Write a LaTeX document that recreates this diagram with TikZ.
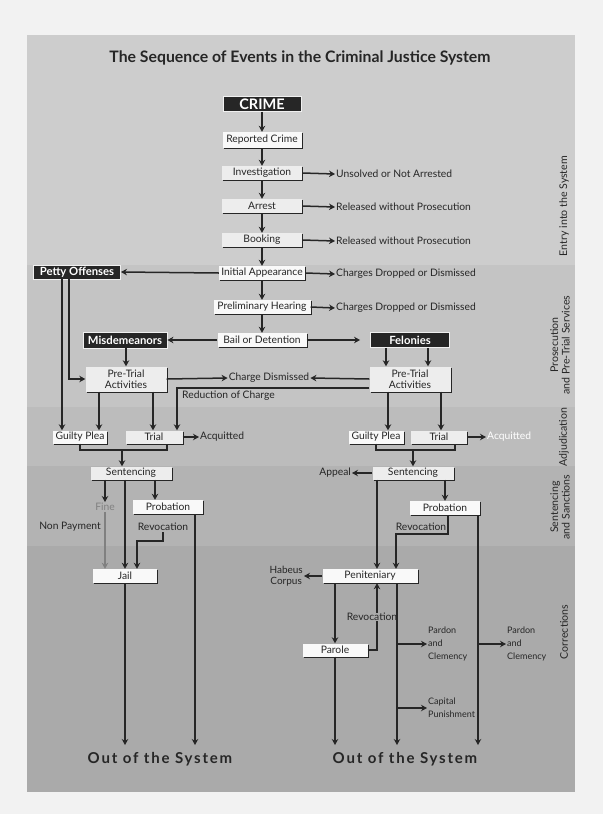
\documentclass[tikz,border=0pt]{standalone}
\usepackage{fontspec}
\setmainfont{Lato}
\usetikzlibrary{arrows.meta,shadows}
\definecolor{pagebg}{HTML}{F2F2F2}
\definecolor{bandA}{HTML}{CDCDCD}
\definecolor{bandB}{HTML}{C4C4C4}
\definecolor{bandC}{HTML}{BCBCBC}
\definecolor{bandD}{HTML}{B3B3B3}
\definecolor{bandE}{HTML}{AAAAAA}
\definecolor{ink}{HTML}{262626}
\begin{document}
\begin{tikzpicture}[x=1pt,y=-1pt,
  txt/.style={font=\fontsize{10.3}{11}\selectfont, text=ink, inner sep=1pt},
  box/.style={txt, fill=gray!5, minimum height=14pt, inner sep=0pt,
    drop shadow={shadow xshift=1.4pt,shadow yshift=-1.4pt,fill=ink,opacity=1}},
  gbox/.style={box, fill=gray!14},
  dbox/.style={fill=ink, draw=gray!12, line width=0.9pt, text=white,
    font=\bfseries\fontsize{11.3}{12}\selectfont, inner sep=0pt, minimum height=14pt},
  conn/.style={line width=1.5pt, draw=ink},
  arr/.style={conn, -{Stealth[length=6pt,width=6.5pt]}},
  side/.style={txt, rotate=90, align=center, font=\fontsize{10.6}{11.5}\selectfont},
  small/.style={txt, align=left, anchor=west, font=\fontsize{9}{13}\selectfont},
  outsys/.style={font=\bfseries\fontsize{15}{17}\selectfont\addfontfeature{LetterSpace=12}, text=ink},
]
\useasboundingbox (0,0) rectangle (603,814);
\fill[pagebg] (0,0) rectangle (603,814);
\fill[bandA] (27,35) rectangle (575,265);
\fill[bandB] (27,265) rectangle (575,407);
\fill[bandC] (27,407) rectangle (575,466);
\fill[bandD] (27,466) rectangle (575,546);
\fill[bandE] (27,546) rectangle (575,792);

\node[font=\bfseries\fontsize{15.8}{18}\selectfont, text=ink] (title) at (300,58) {The Sequence of Events in the Criminal Justice System};

% side labels
\node[side] (s1) at (564,206) {Entry into the System};
\node[side] (s2) at (560,345) {Prosecution\\and Pre-Trial Services};
\node[side] (s3) at (564,437) {Adjudication};
\node[side] (s4) at (560,507) {Sentencing\\and Sanctions};
\node[side] (s5) at (564,632) {Corrections};

% main column
\node[dbox, minimum width=78pt, minimum height=15pt, font=\bfseries\fontsize{14.5}{15}\selectfont] (crime) at (262,104) {CRIME};
\node[box, minimum width=79pt, minimum height=16pt] (rep) at (262,140) {Reported Crime};
\node[gbox, minimum width=80pt] (inv) at (262,173) {Investigation};
\node[gbox, minimum width=80pt] (arr) at (262,206) {Arrest};
\node[gbox, minimum width=80pt] (book) at (262,240) {Booking};
\node[box, minimum width=86pt] (ia) at (262,273) {Initial Appearance};
\node[box, minimum width=97pt] (ph) at (262,307) {Preliminary Hearing};
\node[box, minimum width=89pt] (bail) at (262,340) {Bail or Detention};

\node[txt, anchor=west] (uns) at (335,174) {Unsolved or Not Arrested};
\node[txt, anchor=west] (rel1) at (335,207) {Released without Prosecution};
\node[txt, anchor=west] (rel2) at (335,241) {Released without Prosecution};
\node[txt, anchor=west] (cd1) at (335,274) {Charges Dropped or Dismissed};
\node[txt, anchor=west] (cd2) at (335,308) {Charges Dropped or Dismissed};

\draw[arr] (crime) -- (rep);
\draw[arr] (rep) -- (inv);
\draw[arr] (inv) -- (arr);
\draw[arr] (arr) -- (book);
\draw[arr] (book) -- (ia);
\draw[arr] (ia) -- (ph);
\draw[arr] (ph) -- (bail);
\draw[arr] (inv.east) -- (uns.west);
\draw[arr] (arr.east) -- (rel1.west);
\draw[arr] (book.east) -- (rel2.west);
\draw[arr] (ia.east) -- (cd1.west);
\draw[arr] (ph.east) -- (cd2.west);

% classification
\node[dbox, minimum width=87pt] (petty) at (77,272) {Petty Offenses};
\node[dbox, minimum width=84pt, minimum height=16pt] (misd) at (125,340) {Misdemeanors};
\node[dbox, minimum width=79pt, minimum height=15pt] (fel) at (410,340) {Felonies};
\draw[arr] (ia.west) -- (petty.east);
\draw[arr] (bail.west) -- (misd.east);
\draw[arr] (bail.east) -- ([xshift=-10pt]fel.west);

\node[gbox, minimum width=81pt, minimum height=25pt, align=center, font=\fontsize{10.3}{11.5}\selectfont] (ptaL) at (126,379) {Pre-Trial\\Activities};
\node[gbox, minimum width=81pt, minimum height=25pt, align=center, font=\fontsize{10.3}{11.5}\selectfont] (ptaR) at (410,379) {Pre-Trial\\Activities};
\node[txt] (chd) at (269,378) {Charge Dismissed};
\node[txt, anchor=west] (red) at (181,396) {Reduction of Charge};

% adjudication
\node[box, minimum width=54pt, minimum height=13pt] (gpL) at (80,437) {Guilty Plea};
\node[gbox, minimum width=57pt, minimum height=13pt] (trL) at (154,437) {Trial};
\node[txt, anchor=west] (acqL) at (199,437) {Acquitted};
\node[box, minimum width=55pt, minimum height=13pt] (gpR) at (376,437) {Guilty Plea};
\node[gbox, minimum width=56pt, minimum height=13pt] (trR) at (439,437) {Trial};
\node[txt, anchor=west, text=white] (acqR) at (486,437) {Acquitted};

\draw[arr] ([xshift=-15pt]petty.south) -- ([xshift=-15pt]petty.south |- gpL.north);
\draw[arr] ([xshift=-8pt]petty.south) |- (ptaL.west);
\draw[arr] (misd.south -| ptaL.north) -- (ptaL.north);
\draw[arr] ([xshift=-24pt]fel.south) -- ([xshift=-24pt]fel.south |- ptaR.north);
\draw[arr] ([xshift=18pt]fel.south) -- ([xshift=18pt]fel.south |- ptaR.north);
\draw[arr] (ptaL.east) -- (chd.west);
\draw[arr] (ptaR.west) -- (chd.east);

\draw[arr] ([yshift=-9pt]ptaR.west) -| ([xshift=23pt]trL.north);
\draw[arr] ([xshift=-27pt]ptaL.south) -- ([xshift=-27pt]ptaL.south |- gpL.north);
\draw[arr] ([xshift=27pt]ptaL.south) -- ([xshift=27pt]ptaL.south |- trL.north);
\draw[arr] ([xshift=-22pt]ptaR.south) -- ([xshift=-22pt]ptaR.south |- gpR.north);
\draw[arr] ([xshift=31pt]ptaR.south) -- ([xshift=31pt]ptaR.south |- trR.north);
\draw[arr] (trL.east) -- (acqL.west);
\draw[arr] (trR.east) -- (acqR.west);

% sentencing
\node[gbox, minimum width=81pt, minimum height=13pt] (senL) at (131,473) {Sentencing};
\node[gbox, minimum width=81pt, minimum height=13pt] (senR) at (413,473) {Sentencing};
\coordinate (brL) at (122,450);
\coordinate (brR) at (413,450);
\draw[conn] (gpL.south) |- (brL) -| ([xshift=13pt]trL.south);
\draw[arr] (brL) -- (brL |- senL.north);
\draw[conn] (gpR.south) |- (brR) -| ([xshift=16pt]trR.south);
\draw[arr] (brR) -- (brR |- senR.north);

\node[txt, anchor=east] (app) at (352,473) {Appeal};
\draw[arr] (senR.west) -- (app.east);

\node[txt, text=black!50] (fine) at (105,507) {Fine};
\node[txt, anchor=east] (nonp) at (102,527) {Non Payment};
\node[box, minimum width=70pt] (probL) at (168,507) {Probation};
\node[txt] (revL) at (163,527) {Revocation};
\node[box, minimum width=70pt] (probR) at (445,508) {Probation};
\node[txt] (revR) at (421,527) {Revocation};

% corrections
\node[box, minimum width=64pt] (jail) at (125,576) {Jail};
\node[box, minimum width=95pt] (pen) at (370,576) {Peniteniary};
\node[txt, align=center, anchor=east, font=\fontsize{10}{11}\selectfont] (hab) at (304,576) {Habeus\\Corpus};
\node[box, minimum width=65pt, minimum height=13pt] (parole) at (335,650) {Parole};
\node[small] (pc1) at (427,644) {Pardon\\and\\Clemency};
\node[small] (pc2) at (506,644) {Pardon\\and\\Clemency};
\node[small] (cap) at (427,708) {Capital\\Punishment};

\coordinate (bot) at (0,745);
\node[outsys] (outL) at (160,759) {Out of the System};
\node[outsys] (outR) at (405,759) {Out of the System};

% left sentencing connectors
\draw[arr] (senL.south -| fine.north) -- (fine.north);
\draw[arr, draw=black!50, line width=1.2pt] (fine.south) -- (fine.south |- jail.north);
\draw[arr] (jail.north |- senL.south) -- (jail.north);
\draw[arr] ([xshift=-13pt]probL.north |- senL.south) -- ([xshift=-13pt]probL.north);
\draw[arr] (revL.south) -- ++(0,9) -| ([xshift=12pt]jail.north);
\draw[arr] ([xshift=27pt]probL.south) -- ([xshift=27pt]probL.south |- bot);
\draw[arr] (jail.south) -- (jail.south |- bot);

% right sentencing connectors
\coordinate (rvR) at (396,534);
\draw[arr] ([xshift=-36pt]senR.south) -- ([xshift=-36pt]senR.south |- pen.north);
\draw[arr] (probR.north |- senR.south) -- (probR.north);
\draw[arr] ([xshift=3pt]probR.south) |- (rvR) -- (rvR |- pen.north);
\draw[arr] ([xshift=33pt]probR.south) -- ([xshift=33pt]probR.south |- bot);
\draw[arr] ([xshift=33pt]probR.south |- pc2.west) -- (pc2.west);

\draw[arr] (pen.west) -- (hab.east);
\draw[arr] (parole.north |- pen.south) -- (parole.north);
\draw[arr, line width=1.2pt] (parole.east) -| ([xshift=7pt]pen.south);
\node[txt, fill=bandE, inner sep=0.5pt] (revP) at (372,617) {Revocation};
\draw[arr] ([xshift=27pt]pen.south) -- ([xshift=27pt]pen.south |- bot);
\draw[arr] ([xshift=27pt]pen.south |- pc1.west) -- (pc1.west);
\draw[arr] ([xshift=27pt]pen.south |- cap.west) -- (cap.west);
\draw[arr] (parole.south) -- (parole.south |- bot);
\end{tikzpicture}
\end{document}
